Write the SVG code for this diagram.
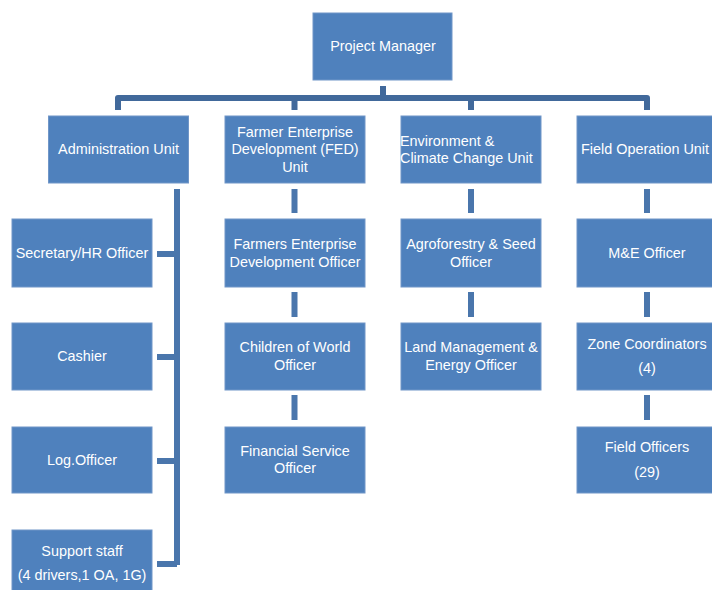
<svg xmlns="http://www.w3.org/2000/svg" width="712" height="590" viewBox="0 0 712 590">
<style>
.box{fill:#4F81BD;stroke:#7096c8;stroke-width:1}
.t{fill:#fff;font-family:"Liberation Sans",Arial,sans-serif;font-size:14.4px;text-anchor:middle}
.tl{fill:#fff;font-family:"Liberation Sans",Arial,sans-serif;font-size:14.4px;text-anchor:start}
.c{fill:none;stroke:#4A76AC;stroke-width:6}
.top{fill:none;stroke:#41699B;stroke-width:6;stroke-linejoin:round}
</style>
<rect width="712" height="590" fill="#fff"/>
<g id="connectors">
<path class="top" d="M383 86V97M118 110V98H647V110M294.5 98V110M471 98V110"/>
<path class="c" d="M177 189V565M157 254H177M157 357H177M157 461H177M157 564H177"/>
<path class="c" d="M294.5 189V213M294.5 292V317M294.5 395V420"/>
<path class="c" d="M471 189V213M471 292V317"/>
<path class="c" d="M647 189V213M647 292V317M647 395V420"/>
</g>
<g id="pm"><rect class="box" x="313" y="13" width="139" height="67"/><text class="t" x="383" y="51">Project Manager</text></g>
<g id="admin"><rect class="box" x="48.5" y="116" width="140" height="67"/><text class="t" x="118.5" y="154">Administration Unit</text></g>
<g id="fed"><rect class="box" x="225" y="116" width="140" height="67"/><text class="t" x="295" y="137">Farmer Enterprise</text><text class="t" x="295" y="154">Development (FED)</text><text class="t" x="295" y="172">Unit</text></g>
<g id="env"><rect class="box" x="401" y="116" width="140" height="67"/><text class="tl" x="400" y="146">Environment &amp;</text><text class="tl" x="400" y="163">Climate Change Unit</text></g>
<g id="field"><rect class="box" x="577" y="116" width="140" height="67"/><text class="tl" x="581" y="154">Field Operation Unit</text></g>
<g id="sec"><rect class="box" x="12" y="219" width="140" height="68"/><text class="t" x="82" y="258">Secretary/HR Officer</text></g>
<g id="cashier"><rect class="box" x="12" y="323" width="140" height="67"/><text class="t" x="82" y="361">Cashier</text></g>
<g id="log"><rect class="box" x="12" y="427" width="140" height="66"/><text class="t" x="82" y="465">Log.Officer</text></g>
<g id="support"><rect class="box" x="12" y="530" width="140" height="65"/><text class="t" x="82" y="556">Support staff</text><text class="t" x="82" y="580">(4 drivers,1 OA, 1G)</text></g>
<g id="fedo"><rect class="box" x="225" y="219" width="140" height="68"/><text class="t" x="295" y="249">Farmers Enterprise</text><text class="t" x="295" y="267">Development Officer</text></g>
<g id="cow"><rect class="box" x="225" y="323" width="140" height="67"/><text class="t" x="295" y="352">Children of World</text><text class="t" x="295" y="370">Officer</text></g>
<g id="fin"><rect class="box" x="225" y="427" width="140" height="66"/><text class="t" x="295" y="456">Financial Service</text><text class="t" x="295" y="473">Officer</text></g>
<g id="agro"><rect class="box" x="401" y="219" width="140" height="68"/><text class="t" x="471" y="249">Agroforestry &amp; Seed</text><text class="t" x="471" y="267">Officer</text></g>
<g id="land"><rect class="box" x="401" y="323" width="140" height="67"/><text class="t" x="471" y="352">Land Management &amp;</text><text class="t" x="471" y="370">Energy Officer</text></g>
<g id="me"><rect class="box" x="577" y="219" width="140" height="68"/><text class="t" x="647" y="258">M&amp;E Officer</text></g>
<g id="zone"><rect class="box" x="577" y="323" width="140" height="67"/><text class="t" x="647" y="349">Zone Coordinators</text><text class="t" x="647" y="373">(4)</text></g>
<g id="fo"><rect class="box" x="577" y="427" width="140" height="66"/><text class="t" x="647" y="452">Field Officers</text><text class="t" x="647" y="477">(29)</text></g>
</svg>
